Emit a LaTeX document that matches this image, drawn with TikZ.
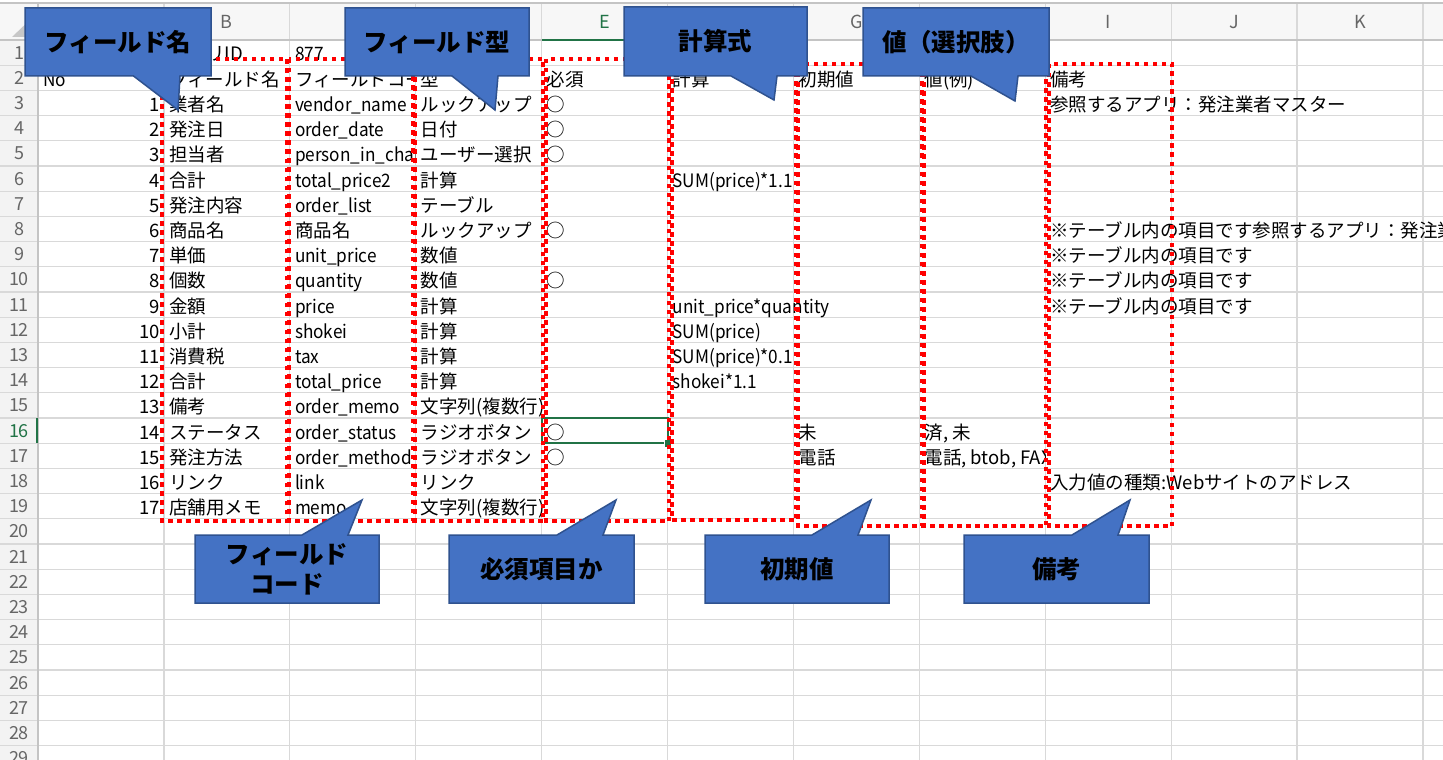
\documentclass[tikz,border=0pt]{standalone}
\usepackage{fontspec}
\setmainfont{Noto Sans CJK JP}
\newfontfamily\jp{Noto Sans CJK JP}
\newfontfamily\jplat{Noto Sans CJK JP}[FakeStretch=0.93]
\definecolor{gridc}{HTML}{D9D9D9}
\definecolor{hdrbg}{HTML}{F7F7F7}
\definecolor{rowbg}{HTML}{F3F3F3}
\definecolor{hdrtxt}{HTML}{666666}
\definecolor{hdrline}{HTML}{C4C4C4}
\definecolor{xlgreen}{HTML}{217346}
\definecolor{cfill}{HTML}{4472C4}
\definecolor{cline}{HTML}{2F528F}
\definecolor{boxred}{HTML}{FF0000}
\tikzset{
  cell/.style={anchor=base west, inner sep=0pt, font=\jp\fontsize{18.5}{20}\selectfont, text=black},
  latin/.style={font=\jplat\fontsize{18.5}{20}\selectfont},
  num/.style={anchor=base east, inner sep=0pt, font=\jp\fontsize{18.5}{20}\selectfont, text=black},
  hdr/.style={anchor=center, inner sep=0pt, font=\jp\fontsize{18}{20}\selectfont, text=hdrtxt},
  gridline/.style={draw=gridc, line width=1.2pt},
  redframe/.style={draw=boxred, line width=4.5pt, dash pattern=on 4.5pt off 4.5pt},
  callout/.style={fill=cfill, draw=cline, line width=1.5pt, line join=miter},
  ctext/.style={anchor=center, inner sep=0pt, align=center, font=\jp\bfseries\fontsize{24.5}{30}\selectfont, text=black},
}
\newcommand\putcell[4][]{\node[cell,#1] (c#2r#3) at ({43+125.9*#2},{61+25.2*(#3-1)}) {#4};}
\newcommand\putnum[1]{\node[num] (n#1) at (160,{61+25.2*(#1+1)}) {#1};}
\begin{document}
\begin{tikzpicture}[x=1pt,y=-1pt]
\clip (0,0) rectangle (1443,760);
\fill[white] (0,0) rectangle (1443,760);
% header backgrounds
\fill[hdrbg] (0,3) rectangle (1443,40);
\fill[rowbg] (0,40) rectangle (38,760);
% grid
\foreach \i in {1,...,11} {\draw[gridline] ({38+125.9*\i},3) -- ({38+125.9*\i},760);}
\foreach \r in {1,...,29} {\draw[gridline] (0,{40+25.2*\r}) -- (1443,{40+25.2*\r});}
\draw[hdrline, line width=1.5pt] (0,3) -- (1443,3);
\draw[hdrline, line width=1.3pt] (0,40) -- (1443,40);
\draw[hdrline, line width=1.3pt] (38,3) -- (38,760);
% select-all triangle
\fill[gridc!80!gray] (12,37) -- (34,37) -- (34,16) -- cycle;
% column letters
\foreach \i/\cl in {0/A,1/B,2/C,3/D,5/F,6/G,7/H,8/I,9/J,10/K,11/L}
  {\node[hdr] (ch\cl) at ({38+125.9*\i+62.95},22) {\cl};}
\node[hdr, text=xlgreen] (chE) at ({38+125.9*4+62.95},22) {E};
\draw[xlgreen, line width=2.5pt] (542,40) -- (668,40);
% row numbers
\foreach \r in {1,...,15,17,18,...,29}
  {\node[hdr] (rh\r) at (19,{40+25.2*(\r-1)+12.6}) {\r};}
\node[hdr, text=xlgreen] (rh16) at (19,{40+25.2*15+12.6}) {16};
\draw[xlgreen, line width=2.5pt] (37,418) -- (37,443.2);
% ---------- cell contents ----------
\putcell{1}{1}{アプリID}
\putcell[latin]{2}{1}{877}
\putcell[latin]{0}{2}{No}
\putcell{1}{2}{フィールド名}
\begin{scope}
  \clip (290,65.2) rectangle (415,90.4);
  \putcell{2}{2}{フィールドコード}
\end{scope}
\putcell{3}{2}{型}
\putcell{4}{2}{必須}
\putcell{5}{2}{計算}
\putcell{6}{2}{初期値}
\putcell{7}{2}{値(例)}
\putcell{8}{2}{備考}
% numbers
\foreach \k in {1,...,17} {\putnum{\k}}
% column B
\putcell{1}{3}{業者名}
\putcell{1}{4}{発注日}
\putcell{1}{5}{担当者}
\putcell{1}{6}{合計}
\putcell{1}{7}{発注内容}
\putcell{1}{8}{商品名}
\putcell{1}{9}{単価}
\putcell{1}{10}{個数}
\putcell{1}{11}{金額}
\putcell{1}{12}{小計}
\putcell{1}{13}{消費税}
\putcell{1}{14}{合計}
\putcell{1}{15}{備考}
\putcell{1}{16}{ステータス}
\putcell{1}{17}{発注方法}
\putcell{1}{18}{リンク}
\putcell{1}{19}{店舗用メモ}
% column C
\putcell[latin]{2}{3}{vendor\_name}
\putcell[latin]{2}{4}{order\_date}
\begin{scope}
  \clip (290,141) rectangle (415,166);
  \putcell[latin]{2}{5}{person\_in\_charge}
\end{scope}
\putcell[latin]{2}{6}{total\_price2}
\putcell[latin]{2}{7}{order\_list}
\putcell{2}{8}{商品名}
\putcell[latin]{2}{9}{unit\_price}
\putcell[latin]{2}{10}{quantity}
\putcell[latin]{2}{11}{price}
\putcell[latin]{2}{12}{shokei}
\putcell[latin]{2}{13}{tax}
\putcell[latin]{2}{14}{total\_price}
\putcell[latin]{2}{15}{order\_memo}
\putcell[latin]{2}{16}{order\_status}
\putcell[latin]{2}{17}{order\_method}
\putcell[latin]{2}{18}{link}
\putcell[latin]{2}{19}{memo}
% column D
\putcell{3}{3}{ルックアップ}
\putcell{3}{4}{日付}
\putcell{3}{5}{ユーザー選択}
\putcell{3}{6}{計算}
\putcell{3}{7}{テーブル}
\putcell{3}{8}{ルックアップ}
\putcell{3}{9}{数値}
\putcell{3}{10}{数値}
\putcell{3}{11}{計算}
\putcell{3}{12}{計算}
\putcell{3}{13}{計算}
\putcell{3}{14}{計算}
\putcell{3}{15}{文字列(複数行)}
\putcell{3}{16}{ラジオボタン}
\putcell{3}{17}{ラジオボタン}
\putcell{3}{18}{リンク}
\putcell{3}{19}{文字列(複数行)}
% column E
\putcell{4}{3}{○}
\putcell{4}{4}{○}
\putcell{4}{5}{○}
\putcell{4}{8}{○}
\putcell{4}{10}{○}
\putcell{4}{16}{○}
\putcell{4}{17}{○}
% column F
\putcell[latin]{5}{6}{SUM(price)*1.1}
\putcell[latin]{5}{11}{unit\_price*quantity}
\putcell[latin]{5}{12}{SUM(price)}
\putcell[latin]{5}{13}{SUM(price)*0.1}
\putcell[latin]{5}{14}{shokei*1.1}
% column G
\putcell{6}{16}{未}
\putcell{6}{17}{電話}
% column H
\putcell{7}{16}{済, 未}
\begin{scope}
  \clip (919,443.2) rectangle (1045,468.4);
  \putcell{7}{17}{電話, btob, FAX}
\end{scope}
% column I
\putcell{8}{3}{参照するアプリ：発注業者マスター}
\putcell{8}{8}{※テーブル内の項目です参照するアプリ：発注業者マスター}
\putcell{8}{9}{※テーブル内の項目です}
\putcell{8}{10}{※テーブル内の項目です}
\putcell{8}{11}{※テーブル内の項目です}
\putcell{8}{18}{入力値の種類:Webサイトのアドレス}
% selection
\draw[xlgreen, line width=2.5pt] (542,418) rectangle (668,443.2);
\fill[xlgreen, draw=white, line width=1pt] (664,439.5) rectangle (671.5,447);
% ---------- red dotted frames ----------
\draw[redframe] (162,59) rectangle (287,521);
\draw[redframe] (289,59) rectangle (413,521);
\draw[redframe] (415,59) rectangle (543,521);
\draw[redframe] (546,59) rectangle (669,521);
\draw[redframe] (672,61) rectangle (796,520);
\draw[redframe] (798,64) rectangle (922,526);
\draw[redframe] (924,64) rectangle (1046,526);
\draw[redframe] (1049,64) rectangle (1172,526);
% ---------- callouts ----------
\path[callout] (25,8) -- (211,8) -- (211,76) -- (180,76) -- (178,110) -- (133.5,76) -- (25,76) -- cycle;
\node[ctext] (co1) at (118,42) {フィールド名};
\path[callout] (345,8) -- (529,8) -- (529,76) -- (498,76) -- (495,110) -- (452,76) -- (345,76) -- cycle;
\node[ctext] (co2) at (437,42) {フィールド型};
\path[callout] (624,7) -- (807,7) -- (807,76) -- (777,76) -- (774,100) -- (731,76) -- (624,76) -- cycle;
\node[ctext] (co3) at (715.5,41.5) {計算式};
\path[callout] (863,8) -- (1049,8) -- (1049,76) -- (1018,76) -- (1015,101) -- (971,76) -- (863,76) -- cycle;
\node[ctext] (co4) at (956,42) {値（選択肢）};
\path[callout] (195,603) -- (195,535) -- (302,535) -- (362,500) -- (348,535) -- (379,535) -- (379,603) -- cycle;
\node[ctext] (co5) at (287,569) {フィールド\\コード};
\path[callout] (449,603) -- (449,535) -- (557,535) -- (616,500) -- (603,535) -- (634,535) -- (634,603) -- cycle;
\node[ctext] (co6) at (541.5,569) {必須項目か};
\path[callout] (705,603) -- (705,535) -- (812,535) -- (871,500) -- (858,535) -- (889,535) -- (889,603) -- cycle;
\node[ctext] (co7) at (797,569) {初期値};
\path[callout] (964,603) -- (964,535) -- (1072,535) -- (1130,500) -- (1118,535) -- (1149,535) -- (1149,603) -- cycle;
\node[ctext] (co8) at (1056.5,569) {備考};
\end{tikzpicture}
\end{document}
